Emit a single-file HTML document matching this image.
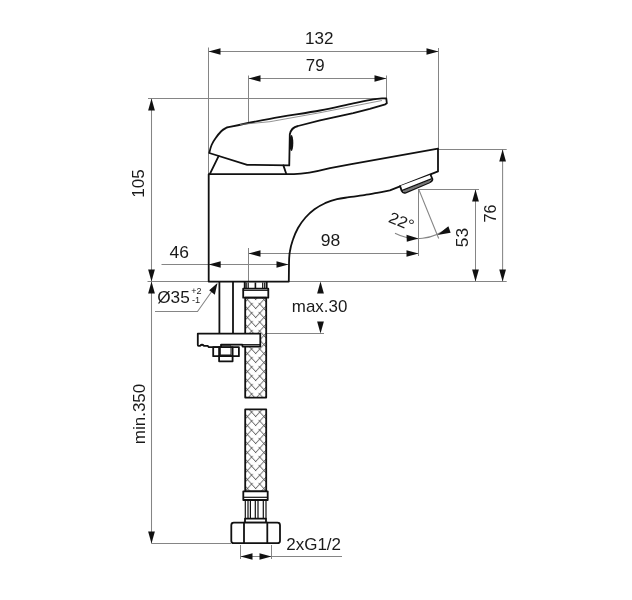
<!DOCTYPE html>
<html><head><meta charset="utf-8">
<style>
html,body{margin:0;padding:0;background:#fff;width:632px;height:600px;overflow:hidden}
svg{display:block}
text{font-family:"Liberation Sans",sans-serif;fill:#1a1a1a}
svg{will-change:transform}
</style></head><body>
<svg width="632" height="600" viewBox="0 0 632 600">
<defs>
<pattern id="braid" x="245.2" y="0" width="21.0" height="9.0" patternUnits="userSpaceOnUse"><path d="M0,-54.00 L11.00,-41.90 M21.0,-54.00 L10.00,-41.90 M13.50,-39.15 L21,-30.90 M7.50,-39.15 L0,-30.90 M0,-45.00 L11.00,-32.90 M21.0,-45.00 L10.00,-32.90 M13.50,-30.15 L21,-21.90 M7.50,-30.15 L0,-21.90 M0,-36.00 L11.00,-23.90 M21.0,-36.00 L10.00,-23.90 M13.50,-21.15 L21,-12.90 M7.50,-21.15 L0,-12.90 M0,-27.00 L11.00,-14.90 M21.0,-27.00 L10.00,-14.90 M13.50,-12.15 L21,-3.90 M7.50,-12.15 L0,-3.90 M0,-18.00 L11.00,-5.90 M21.0,-18.00 L10.00,-5.90 M13.50,-3.15 L21,5.10 M7.50,-3.15 L0,5.10 M0,-9.00 L11.00,3.10 M21.0,-9.00 L10.00,3.10 M13.50,5.85 L21,14.10 M7.50,5.85 L0,14.10 M0,0.00 L11.00,12.10 M21.0,0.00 L10.00,12.10 M13.50,14.85 L21,23.10 M7.50,14.85 L0,23.10 M0,9.00 L11.00,21.10 M21.0,9.00 L10.00,21.10 M13.50,23.85 L21,32.10 M7.50,23.85 L0,32.10 M0,18.00 L11.00,30.10 M21.0,18.00 L10.00,30.10 M13.50,32.85 L21,41.10 M7.50,32.85 L0,41.10 M0,27.00 L11.00,39.10 M21.0,27.00 L10.00,39.10 M13.50,41.85 L21,50.10 M7.50,41.85 L0,50.10 M0,36.00 L11.00,48.10 M21.0,36.00 L10.00,48.10 M13.50,50.85 L21,59.10 M7.50,50.85 L0,59.10" fill="none" stroke="#333" stroke-width="0.85"/></pattern>
</defs>
<rect width="632" height="600" fill="#fff"/>

<!-- ===== thin dimension lines ===== -->
<g stroke="#858585" stroke-width="1.05" fill="none">
  <!-- 132 -->
  <line x1="208.5" y1="47.5" x2="208.5" y2="174"/>
  <line x1="438.5" y1="48" x2="438.5" y2="149"/>
  <line x1="208.5" y1="51.5" x2="438.5" y2="51.5"/>
  <!-- 79 -->
  <line x1="248.5" y1="75.5" x2="248.5" y2="122"/>
  <line x1="386.5" y1="75.5" x2="386.5" y2="98.5"/>
  <line x1="248.5" y1="78.5" x2="386.5" y2="78.5"/>
  <!-- 105 -->
  <line x1="148" y1="98.5" x2="386.5" y2="98.5"/>
  <line x1="151.5" y1="98.5" x2="151.5" y2="543.5"/>
  <!-- base -->
  <line x1="147.5" y1="281.5" x2="506.7" y2="281.5"/>
  <!-- 46 -->
  <line x1="161.5" y1="264.5" x2="288.5" y2="264.5"/>
  <!-- 98 -->
  <line x1="248.5" y1="248" x2="248.5" y2="281"/>
  <line x1="248.5" y1="253.5" x2="418.5" y2="253.5"/>
  <!-- 53 / 76 -->
  <line x1="419" y1="189.5" x2="479" y2="189.5"/>
  <line x1="475.5" y1="189.5" x2="475.5" y2="281.5"/>
  <line x1="438" y1="149.5" x2="506.7" y2="149.5"/>
  <line x1="502.6" y1="149.5" x2="502.6" y2="281.5"/>
  <!-- 22 deg -->
  <line x1="418.5" y1="189" x2="418.5" y2="256"/>
  <line x1="419" y1="190" x2="438.7" y2="238.5"/>
  <path d="M395,233.3 A49,49 0 0 0 448.3,227.5"/>
  <!-- Ø35 leader -->
  <polyline points="155,311.5 197.5,311.5 217,284"/>
  <!-- max.30 -->
  <line x1="267" y1="333.5" x2="324" y2="333.5"/>
  
  <!-- min.350 base -->
  <line x1="151.5" y1="543.5" x2="231" y2="543.5"/>
  <!-- 2xG1/2 -->
  <line x1="240.5" y1="545" x2="240.5" y2="559"/>
  <line x1="271.5" y1="545" x2="271.5" y2="559"/>
  <line x1="240.5" y1="556.5" x2="342" y2="556.5"/>
</g>

<!-- ===== arrowheads ===== -->
<g fill="#111" stroke="none">
  <!-- 132 -->
  <polygon points="208.50,51.50 220.50,48.14 220.50,54.86"/>
  <polygon points="438.50,51.50 426.50,48.14 426.50,54.86"/>
  <!-- 79 -->
  <polygon points="248.50,78.50 260.50,75.14 260.50,81.86"/>
  <polygon points="386.50,78.50 374.50,75.14 374.50,81.86"/>
  <!-- 105 -->
  <polygon points="151.50,98.50 148.14,110.50 154.86,110.50"/>
  <polygon points="151.50,281.50 148.14,269.50 154.86,269.50"/>
  <polygon points="151.50,281.50 148.14,293.50 154.86,293.50"/>
  <polygon points="151.50,543.50 148.14,531.50 154.86,531.50"/>
  <!-- 46 -->
  <polygon points="208.70,264.50 220.70,261.14 220.70,267.86"/>
  <polygon points="288.50,264.50 276.50,261.14 276.50,267.86"/>
  <!-- 98 -->
  <polygon points="248.50,253.50 260.50,250.14 260.50,256.86"/>
  <polygon points="418.50,253.50 406.50,250.14 406.50,256.86"/>
  <!-- 53 -->
  <polygon points="475.50,189.50 472.14,201.50 478.86,201.50"/>
  <polygon points="475.50,281.50 472.14,269.50 478.86,269.50"/>
  <!-- 76 -->
  <polygon points="502.60,149.50 499.24,161.50 505.96,161.50"/>
  <polygon points="502.60,281.50 499.24,269.50 505.96,269.50"/>
  <!-- 22 -->
  <polygon points="418.50,238.50 406.48,234.83 406.82,241.77"/>
  <polygon points="437.50,235.00 448.38,226.15 450.62,232.65"/>
  <!-- Ø35 -->
  <polygon points="217.50,283.00 214.80,294.74 209.20,290.26"/>
  <!-- max.30 -->
  <polygon points="320.50,281.50 317.14,293.50 323.86,293.50"/>
  <polygon points="320.50,333.50 317.14,321.50 323.86,321.50"/>
  <!-- 2xG1/2 -->
  <polygon points="240.50,556.50 252.50,553.14 252.50,559.86"/>
  <polygon points="271.50,556.50 259.50,553.14 259.50,559.86"/>
</g>

<!-- ===== texts ===== -->
<g font-size="16">
<!--TEXTS-->
  <text transform="translate(319.18,43.50) scale(1.0676,1)" text-anchor="middle" font-size="16">132</text>
  <text transform="translate(315.19,70.62) scale(1.0537,1)" text-anchor="middle" font-size="16">79</text>
  <text transform="translate(179.22,257.88) scale(1.0908,1)" text-anchor="middle" font-size="16">46</text>
  <text transform="translate(330.59,245.62) scale(1.0970,1)" text-anchor="middle" font-size="16">98</text>
  <text transform="translate(143.94,183.44) rotate(-90) scale(1.0676,1)" text-anchor="middle" font-size="16">105</text>
  <text transform="translate(495.94,213.47) rotate(-90) scale(1.0096,1)" text-anchor="middle" font-size="16">76</text>
  <text transform="translate(467.62,237.50) rotate(-90) scale(1.0849,1)" text-anchor="middle" font-size="16">53</text>
  <text transform="translate(144.94,414.00) rotate(-90) scale(1.0656,1)" text-anchor="middle" font-size="16">min.350</text>
  <text transform="translate(319.59,312.12) scale(1.0574,1)" text-anchor="middle" font-size="16">max.30</text>
  <text transform="translate(313.62,549.56) scale(1.0616,1)" text-anchor="middle" font-size="16">2xG1/2</text>
  <text transform="translate(173.46,303.20) scale(1.0779,1)" text-anchor="middle" font-size="16">Ø35</text>
  <text transform="translate(196.43,294.30) scale(1.0283,1)" text-anchor="middle" font-size="8.8">+2</text>
  <text transform="translate(196.06,303.10) scale(1.0463,1)" text-anchor="middle" font-size="8.8">-1</text>
<!--/TEXTS-->
  <text transform="translate(399.5,226.6) rotate(22) scale(1.06,1)" text-anchor="middle">22°</text>
</g>

<!-- ===== thick outlines ===== -->
<g stroke="#111" stroke-width="1.8" fill="none" stroke-linejoin="round" stroke-linecap="round">
  <!-- lever -->
  <path d="M226.8,127.5 C234.0,126.0 254.5,121.6 270.0,118.8 C285.5,115.9 306.1,113.1 320.0,110.5 C333.9,107.9 344.3,105.1 353.2,103.3 C362.1,101.5 368.0,100.2 373.2,99.4 C378.4,98.6 382.4,98.5 384.2,98.3 L386.3,98.5 L386.8,103.2 L385.3,104.3 L369.8,108.8 L353.2,113.2 L320,120.4 L298,126 Q291,127.5 289.8,134.5 L289.25,165.4 L247.2,164.8 L209.25,153 C209.6,151.7 210.5,147.5 211.6,145.0 C212.7,142.5 214.0,140.3 215.7,138.0 C217.3,135.7 219.7,132.8 221.5,131.0 C223.3,129.2 225.9,128.1 226.8,127.5 Z" fill="#fff"/>
  <!-- lever supports -->
  <line x1="218.6" y1="156.1" x2="209.8" y2="174.2"/>
  <line x1="283.4" y1="165.4" x2="286.3" y2="174"/>
  <!-- body -->
  <path d="M208.7,281.6 L208.7,174.2 L294,174.1 C302,174.1 315,172 330,168.2 L350,164.4 L438,148.7 L438,171.4 L389.9,190.4 C388.0,190.8 382.8,191.8 378.5,192.6 C374.2,193.4 369.2,194.4 364.2,195.2 C359.3,196.0 353.5,196.6 349.0,197.2 C344.5,197.9 341.0,198.2 337.0,199.2 C333.0,200.2 328.8,201.6 325.0,203.2 C321.2,204.9 317.8,206.9 314.5,209.2 C311.2,211.6 308.2,214.4 305.5,217.5 C302.8,220.6 300.1,224.2 298.0,228.0 C295.9,231.8 294.1,236.0 292.8,240.0 C291.4,244.0 290.4,248.0 289.8,252.0 C289.1,256.0 289.1,259.7 289.0,264.0 L288.8,281.6 Z"/>
  <!-- aerator -->
  <path d="M400.1,186.1 L401.7,190.9 Q402.8,193.2 405,192.8 L429.5,182.5 Q432.8,181 432.4,179 L430.5,174.7" fill="#fff"/>
  <polygon points="402.6,190.8 431.6,179.3 429.6,182.3 405,192.4" fill="#777" stroke="none"/>
  <line x1="402.3" y1="190.3" x2="431.3" y2="178.8" stroke-width="1.3"/>
  <!-- studs -->
  <line x1="219.4" y1="282.5" x2="219.4" y2="333.6"/>
  <line x1="233" y1="282.5" x2="233" y2="333.6"/>
  <!-- hose top connector -->
  <line x1="244.7" y1="282.5" x2="244.7" y2="288.5"/>
  <line x1="266.7" y1="282.5" x2="266.7" y2="288.5"/>
  <rect x="243.2" y="288.7" width="25.1" height="9" fill="#fff"/>
  <line x1="243.2" y1="290.4" x2="268.3" y2="290.4" stroke-width="1"/>
  <!-- hose segments -->
  <rect x="245.2" y="297.7" width="21" height="99.9" fill="url(#braid)"/>
  <rect x="245.2" y="409.3" width="21" height="82" fill="url(#braid)"/>
  <!-- plate -->
  <path d="M197.8,333.6 L260.3,333.6 L260.3,346.5 L242.5,346.5 L242.3,344.7 L221.1,344.7 L221.1,347.1 L208.8,347.1 L207.7,345.9 L204,345.9 Q202,343.6 200,345.9 L198.5,345.9 Q197.8,345.9 197.8,345 Z" fill="#fff"/>
  <line x1="221" y1="344.6" x2="260.3" y2="344.6" stroke-width="1"/>
  <!-- nut -->
  <rect x="213.2" y="347.1" width="25.7" height="9.1" fill="#fff"/>
  <line x1="219.1" y1="347.1" x2="219.1" y2="356.2"/>
  <line x1="232.6" y1="347.1" x2="232.6" y2="356.2"/>
  <rect x="220.7" y="345.9" width="10.3" height="9.1" stroke-width="1"/>
  <rect x="219.1" y="356.2" width="13.5" height="5.1" fill="#fff"/>
  <!-- hose bottom -->
  <rect x="243.3" y="491.3" width="24.4" height="8.7" fill="#fff"/>
  <rect x="245" y="518.7" width="21" height="4"/>
  <rect x="231.3" y="522.7" width="48.7" height="20.5" rx="2.5" fill="#fff"/>
  <line x1="244" y1="522.7" x2="244" y2="543.2"/>
  <line x1="267.3" y1="522.7" x2="267.3" y2="543.2"/>
</g>
<g stroke="#111" stroke-width="1.2" fill="none">
  <!-- top connector ribs -->
  <line x1="246.2" y1="282.5" x2="246.2" y2="288.7"/>
  <line x1="248.2" y1="282.5" x2="248.2" y2="288.7"/>
  <line x1="255.4" y1="282.5" x2="255.4" y2="288.7" stroke-width="1.6"/>
  <line x1="262.7" y1="282.5" x2="262.7" y2="288.7"/>
  <line x1="264.7" y1="282.5" x2="264.7" y2="288.7"/>
  <!-- bottom ribs -->
  <line x1="245.3" y1="500" x2="245.3" y2="518.7"/>
  <line x1="248" y1="500" x2="248" y2="518.7"/>
  <line x1="250.4" y1="500" x2="250.4" y2="518.7"/>
  <line x1="255.3" y1="500" x2="255.3" y2="518.7"/>
  <line x1="258" y1="500" x2="258" y2="518.7"/>
  <line x1="263.3" y1="500" x2="263.3" y2="518.7"/>
  <line x1="266" y1="500" x2="266" y2="518.7"/>
  <line x1="243.3" y1="497.3" x2="267.7" y2="497.3"/>
</g>
<g stroke="#777" stroke-width="0.8" fill="none">
  <!-- lever inner line -->
  <path d="M240,124.5 L270,121.7 L320,112.7 L382,100.5"/>
</g>
<!-- lever blob -->
<ellipse cx="291.4" cy="143" rx="1.9" ry="8" fill="#111"/>
</svg>
</body></html>
